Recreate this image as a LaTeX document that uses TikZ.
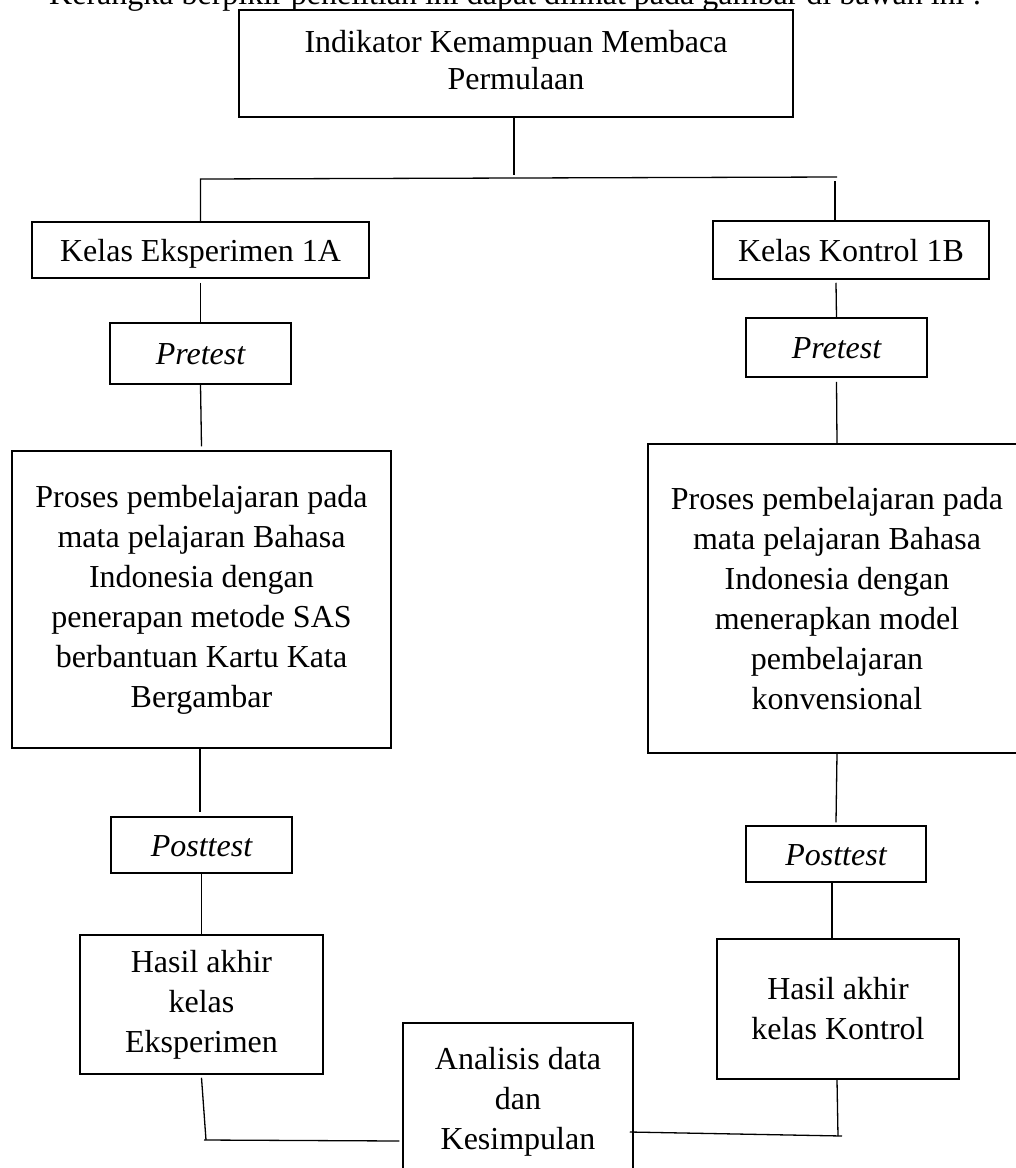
\documentclass[tikz,border=0pt]{standalone}
\usepackage{fontspec}
\setmainfont{Liberation Serif}
\begin{document}
\begin{tikzpicture}[x=1pt,y=-1pt,
  box/.style={draw,line width=1.5pt,inner sep=0pt,align=center,font=\fontsize{32}{40}\selectfont},
  onebox/.style={box,text height=28pt,text depth=6pt},
  conn/.style={line width=1.3pt}]
\useasboundingbox (0,0) rectangle (1016,1168);
\clip (0,0) rectangle (1016,1168);
\node[anchor=base west,inner sep=0pt,font=\fontsize{32}{40}\selectfont] (intro) at (49,4)
  {Kerangka berpikir penelitian ini dapat dilihat pada gambar di bawah ini :};
% boxes
\node[box,minimum width=554pt,minimum height=107pt,font=\fontsize{32}{37}\selectfont] (top) at (516,63.5)
  {Indikator Kemampuan Membaca\\Permulaan\rule[-8pt]{0pt}{8pt}};
\node[onebox,minimum width=337pt,minimum height=56pt] (kelasE) at (200.5,250) {Kelas Eksperimen 1A};
\node[onebox,minimum width=276pt,minimum height=58pt] (kelasK) at (851,250) {Kelas Kontrol 1B};
\node[onebox,minimum width=181pt,minimum height=61pt] (preL) at (200.5,353.5) {\itshape Pretest};
\node[onebox,minimum width=181pt,minimum height=59pt] (preR) at (836.5,347.5) {\itshape Pretest};
\node[box,minimum width=379pt,minimum height=297pt] (bigL) at (201.5,599.5)
  {Proses pembelajaran pada\\mata pelajaran Bahasa\\Indonesia dengan\\penerapan metode SAS\\berbantuan Kartu Kata\\Bergambar};
\node[box,minimum width=378pt,minimum height=309pt] (bigR) at (837,598.5)
  {Proses pembelajaran pada\\mata pelajaran Bahasa\\Indonesia dengan\\menerapkan model\\pembelajaran\\konvensional};
\node[onebox,minimum width=181pt,minimum height=56pt] (postL) at (201.5,845) {\itshape Posttest};
\node[onebox,minimum width=180pt,minimum height=56pt] (postR) at (836,854) {\itshape Posttest};
\node[box,minimum width=243pt,minimum height=139pt] (hasilL) at (201.5,1004.5) {Hasil akhir\\kelas\\Eksperimen};
\node[box,minimum width=242pt,minimum height=140pt] (hasilR) at (838,1009) {Hasil akhir\\kelas Kontrol};
\node[box,minimum width=230pt,minimum height=157pt] (analisis) at (518,1101.5) {Analisis data\\dan\\Kesimpulan};
% connectors
\coordinate (hL) at (200.5,179);
\coordinate (hR) at (837,177);
\coordinate (bl) at (206,1140);
\coordinate (br) at (838,1136);
\draw[conn] ([xshift=-2pt]top.south) -- ++(0,57);
\draw[conn] (kelasE.north) -- (hL) -- (hR);
\draw[conn] ([xshift=-16pt]kelasK.north) -- ++(0,-39);
\draw[conn] ([yshift=-4pt]kelasE.south) -- (preL.north);
\draw[conn] (preL.south) -- ([yshift=4pt]bigL.north);
\draw[conn] ([xshift=-1.5pt]bigL.south) -- ([xshift=-1.5pt,yshift=4pt]postL.north);
\draw[conn] (postL.south) -- (hasilL.north);
\draw[conn] ([yshift=-3pt]hasilL.south) -- (bl);
\draw[conn] ([xshift=-2pt]bl) -- ([shift={(-3,39.5)}]analisis.west);
\draw[conn] ([xshift=-15pt,yshift=-3pt]kelasK.south) -- (preR.north);
\draw[conn] ([yshift=-4pt]preR.south) -- (bigR.north);
\draw[conn] (bigR.south) -- ([yshift=3pt]postR.north);
\draw[conn] ([xshift=-4pt]postR.south) -- ([xshift=-6pt]hasilR.north);
\draw[conn] ([xshift=-1pt]hasilR.south) -- (br);
\draw[conn] ([shift={(-4,30.5)}]analisis.east) -- ([xshift=4pt]br);
\end{tikzpicture}
\end{document}
